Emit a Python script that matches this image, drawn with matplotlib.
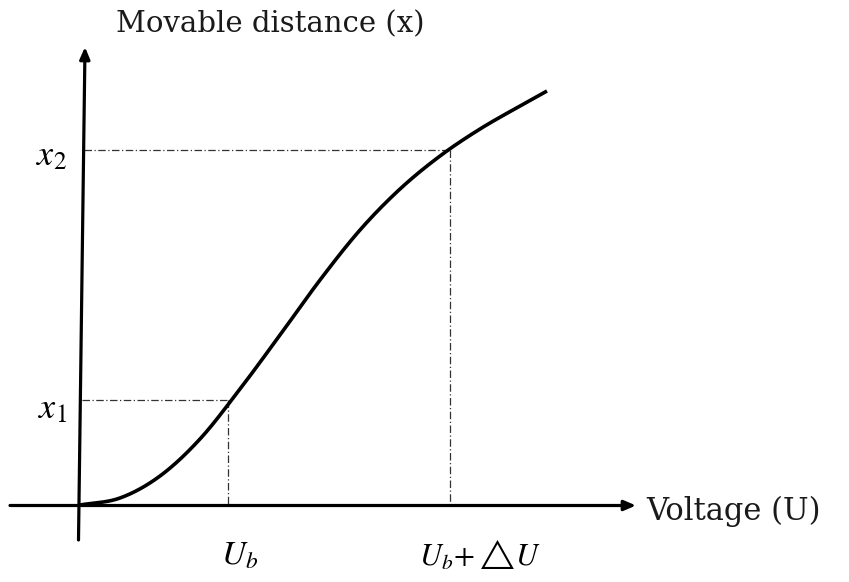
import numpy as np
import matplotlib
matplotlib.use("Agg")
import matplotlib.pyplot as plt

plt.rcParams["mathtext.fontset"] = "stix"

# Displacement curve: voltage (arbitrary units) vs movable distance
voltage = [0.00, 0.40, 0.80, 1.20, 1.60, 2.00, 2.40, 2.80, 3.20, 3.60, 4.00, 4.40, 4.67]
distance = [0.00, 0.07, 0.29, 0.66, 1.16, 1.70, 2.25, 2.75, 3.16, 3.49, 3.76, 3.99, 4.14]

# Marked operating points
u_b = 1.48
u_b_du = 3.70
x_1 = 1.05
x_2 = 3.55

fig = plt.figure(figsize=(8.49, 5.82), dpi=100)
ax = fig.add_axes([0, 0, 1, 1])
ax.set_xlim(-0.80, 7.69)
ax.set_ylim(-0.77, 5.05)
ax.axis("off")

# Axes with arrow heads
arrow_kw = dict(arrowstyle="-|>,head_length=0.7,head_width=0.3", color="black",
                lw=2.3, shrinkA=0, shrinkB=0)
ax.annotate("", xy=(5.56, -0.005), xytext=(-0.70, -0.005), arrowprops=arrow_kw)
ax.annotate("", xy=(0.05, 4.58), xytext=(-0.015, -0.35), arrowprops=arrow_kw)

# Guide lines
guide = dict(color="#333333", lw=0.9, ls=(0, (6, 2, 1, 2)))
ax.plot([0.02, u_b], [x_1, x_1], **guide)
ax.plot([u_b, u_b], [x_1, 0], **guide)
ax.plot([0.04, u_b_du], [x_2, x_2], **guide)
ax.plot([u_b_du, u_b_du], [x_2, 0], **guide)


def catmull_rom(xs, ys, steps=40):
    pts = np.column_stack([xs, ys])
    ext = np.vstack([2 * pts[0] - pts[1], pts, 2 * pts[-1] - pts[-2]])
    out = []
    for i in range(1, len(ext) - 2):
        p0, p1, p2, p3 = ext[i - 1], ext[i], ext[i + 1], ext[i + 2]
        s = np.linspace(0, 1, steps, endpoint=False)[:, None]
        seg = 0.5 * ((2 * p1) + (-p0 + p2) * s
                     + (2 * p0 - 5 * p1 + 4 * p2 - p3) * s ** 2
                     + (-p0 + 3 * p1 - 3 * p2 + p3) * s ** 3)
        out.append(seg)
    out.append(pts[-1][None, :])
    out = np.vstack(out)
    return out[:, 0], out[:, 1]


cx, cy = catmull_rom(voltage, distance)
ax.plot(cx, cy, color="black", lw=2.6, solid_capstyle="butt")

# Labels
serif = "DejaVu Serif"
ax.text(1.90, 4.81, "Movable distance (x)", family=serif, fontsize=21,
        color="#1a1a1a", ha="center", va="center")
ax.text(5.66, -0.06, "Voltage (U)", family=serif, fontsize=22,
        color="#1a1a1a", ha="left", va="center")
ax.text(-0.29, x_2 - 0.05, r"$x_2$", fontsize=26, ha="center", va="center")
ax.text(-0.28, x_1 - 0.08, r"$x_1$", fontsize=26, ha="center", va="center")
ax.text(u_b + 0.12, -0.50, r"$U_b$", fontsize=24, ha="center", va="center")
ax.text(u_b_du + 0.30, -0.50, r"$U_b\!+\!\triangle\!U$", fontsize=22,
        ha="center", va="center")

fig.savefig("out.png", dpi=100)
